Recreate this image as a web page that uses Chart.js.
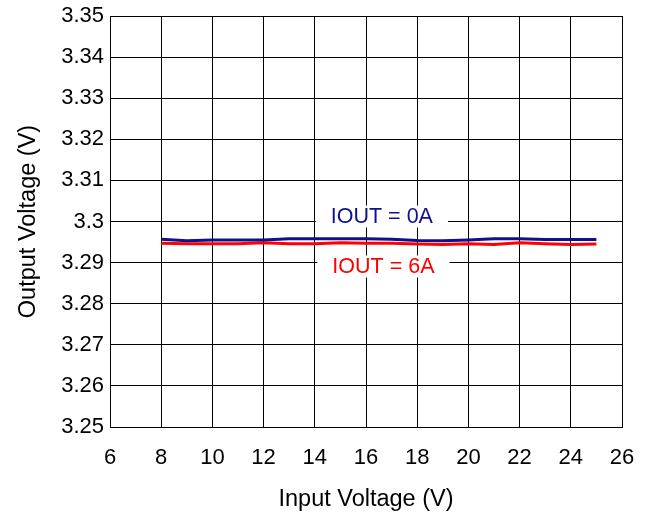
<!DOCTYPE html>
<html>
<head>
<meta charset="utf-8">
<script src="https://cdn.jsdelivr.net/npm/chart.js@4/dist/chart.umd.min.js"></script>
<style>
html,body{margin:0;padding:0;background:#fff;}
#wrap{width:650px;height:515px;position:relative;}
</style>
</head>
<body>
<div id="wrap"><canvas id="c" width="650" height="515"></canvas></div>
<script>
const inputVoltage = [8,9,10,11,12,13,14,15,16,17,18,19,20,21,22,23,24,25];
const vout0A = [3.2957,3.2953,3.2955,3.2955,3.2955,3.2958,3.2958,3.2958,3.2958,3.2957,3.2954,3.2953,3.2955,3.2958,3.2958,3.2956,3.2956,3.2956];
const vout6A = [3.2947,3.2946,3.2946,3.2946,3.2948,3.2946,3.2946,3.2948,3.2947,3.2947,3.2945,3.2944,3.2946,3.2944,3.2948,3.2946,3.2944,3.2945];
const yTickLabels = ["3.25","3.26","3.27","3.28","3.29","3.3","3.31","3.32","3.33","3.34","3.35"];
const xTickLabels = ["6","8","10","12","14","16","18","20","22","24","26"];
const seriesNames = ["IOUT = 0A","IOUT = 6A"];
const seriesColors = ["#10108a","#ff0000"];
const labelAnchors = [{x:16.62, y:3.30122},{x:16.68, y:3.28905}];

const FONT = "'Liberation Sans', Arial, Helvetica, sans-serif";

const labelPlugin = {
  id: 'seriesLabels',
  afterDatasetsDraw(chart) {
    const ctx = chart.ctx;
    const xs = chart.scales.x, ys = chart.scales.y;
    ctx.save();
    ctx.font = "21.5px " + FONT;
    ctx.textAlign = 'center';
    ctx.textBaseline = 'middle';
    seriesNames.forEach((name, i) => {
      const px = xs.getPixelForValue(labelAnchors[i].x);
      const py = ys.getPixelForValue(labelAnchors[i].y);
      const w = ctx.measureText(name).width + 30;
      const h = 22;
      ctx.fillStyle = '#fff';
      ctx.fillRect(px - w/2, py - h/2, w, h);
      ctx.fillStyle = seriesColors[i];
      ctx.fillText(name, px, py + 1);
    });
    ctx.restore();
  }
};

new Chart(document.getElementById('c'), {
  type: 'line',
  data: {
    datasets: [
      { label: seriesNames[0], data: inputVoltage.map((v,i)=>({x:v,y:vout0A[i]})),
        borderColor: seriesColors[0], borderWidth: 3, pointRadius: 0, tension: 0, fill:false },
      { label: seriesNames[1], data: inputVoltage.map((v,i)=>({x:v,y:vout6A[i]})),
        borderColor: seriesColors[1], borderWidth: 3, pointRadius: 0, tension: 0, fill:false }
    ]
  },
  options: {
    responsive: false,
    animation: false,
    devicePixelRatio: 1,
    layout: { padding: { left: 0, right: 28, top: 16, bottom: 0 } },
    plugins: { legend: { display: false }, tooltip: { enabled: false } },
    scales: {
      x: {
        type: 'linear', min: 6, max: 26,
        ticks: { stepSize: 2, color: '#000', font: { family: FONT, size: 22 }, padding: 18,
                 maxRotation: 0, autoSkip: false,
                 callback: (v, i) => xTickLabels[i] },
        grid: { color: '#000', lineWidth: 1, drawTicks: false },
        border: { color: '#000', width: 1 },
        title: { display: true, text: 'Input Voltage (V)', color: '#000',
                 font: { family: FONT, size: 23.5 }, padding: { top: 12, bottom: 1 } },
        afterFit: (s) => { s.height = 88; s.paddingLeft = 0; s.paddingRight = 0; }
      },
      y: {
        type: 'linear', min: 3.25, max: 3.35,
        ticks: { stepSize: 0.01, color: '#000', font: { family: FONT, size: 22 }, padding: 6,
                 autoSkip: false, callback: (v, i) => yTickLabels[i] },
        grid: { color: '#000', lineWidth: 1, drawTicks: false },
        border: { color: '#000', width: 1 },
        title: { display: true, text: 'Output Voltage (V)', color: '#000',
                 font: { family: FONT, size: 23.5 }, padding: { top: 14, bottom: 8 } },
        afterFit: (s) => { s.width = 110; s.paddingTop = 0; s.paddingBottom = 0; }
      }
    }
  },
  plugins: [labelPlugin]
});
</script>
</body>
</html>
